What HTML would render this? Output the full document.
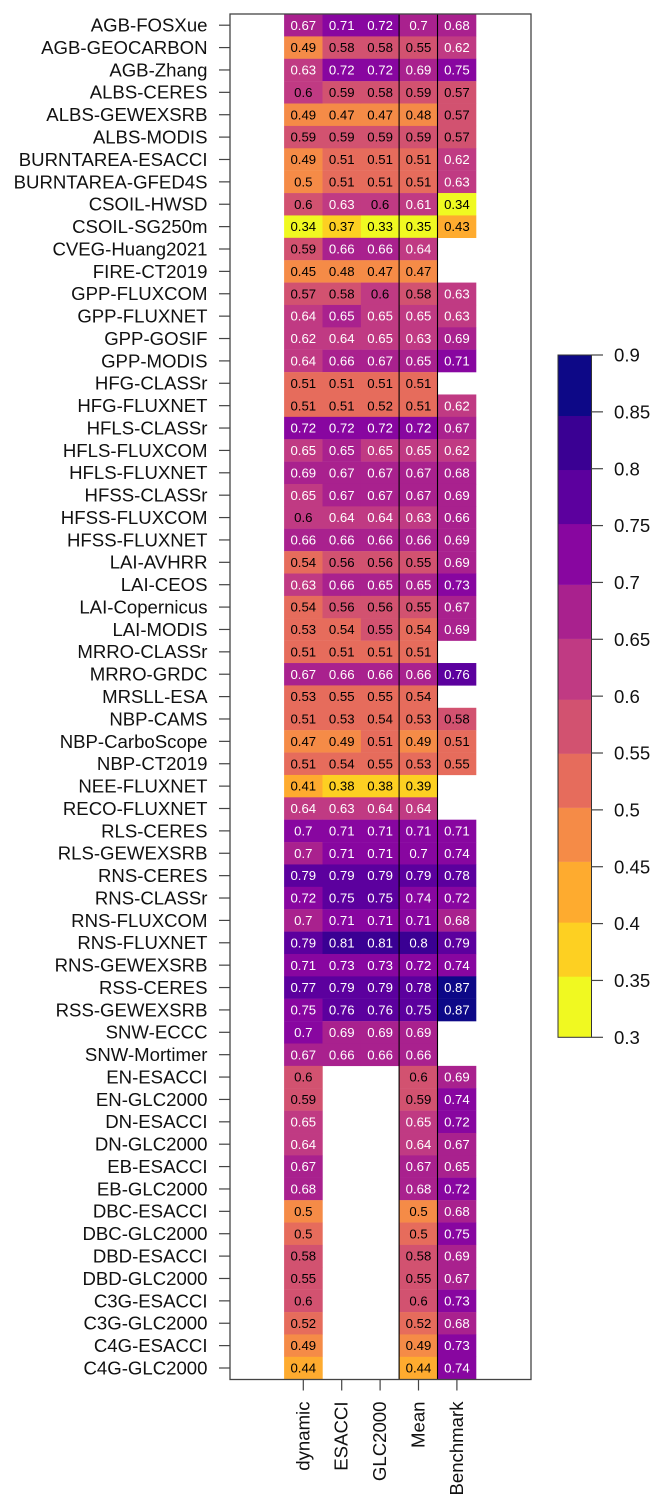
<!DOCTYPE html>
<html lang="en">
<head>
<meta charset="utf-8">
<title>Model score heatmap</title>
<style>
html,body{margin:0;padding:0;background:#fff;}
#chart{display:block;width:665px;height:1509px;filter:blur(0.35px);}
text{font-family:"Liberation Sans",sans-serif;}
</style>
</head>
<body>
<svg id="chart" xmlns="http://www.w3.org/2000/svg" width="665" height="1509" viewBox="0 0 665 1509"></svg>
<script>
const rowNames = ["AGB-FOSXue","AGB-GEOCARBON","AGB-Zhang","ALBS-CERES","ALBS-GEWEXSRB","ALBS-MODIS","BURNTAREA-ESACCI","BURNTAREA-GFED4S","CSOIL-HWSD","CSOIL-SG250m","CVEG-Huang2021","FIRE-CT2019","GPP-FLUXCOM","GPP-FLUXNET","GPP-GOSIF","GPP-MODIS","HFG-CLASSr","HFG-FLUXNET","HFLS-CLASSr","HFLS-FLUXCOM","HFLS-FLUXNET","HFSS-CLASSr","HFSS-FLUXCOM","HFSS-FLUXNET","LAI-AVHRR","LAI-CEOS","LAI-Copernicus","LAI-MODIS","MRRO-CLASSr","MRRO-GRDC","MRSLL-ESA","NBP-CAMS","NBP-CarboScope","NBP-CT2019","NEE-FLUXNET","RECO-FLUXNET","RLS-CERES","RLS-GEWEXSRB","RNS-CERES","RNS-CLASSr","RNS-FLUXCOM","RNS-FLUXNET","RNS-GEWEXSRB","RSS-CERES","RSS-GEWEXSRB","SNW-ECCC","SNW-Mortimer","EN-ESACCI","EN-GLC2000","DN-ESACCI","DN-GLC2000","EB-ESACCI","EB-GLC2000","DBC-ESACCI","DBC-GLC2000","DBD-ESACCI","DBD-GLC2000","C3G-ESACCI","C3G-GLC2000","C4G-ESACCI","C4G-GLC2000"];
const columnNames = ["dynamic","ESACCI","GLC2000","Mean","Benchmark"];
const dynamicValues = [.67,.49,.63,.6,.49,.59,.49,.498,.598,.34,.59,.45,.57,.64,.62,.64,.51,.51,.72,.648,.69,.648,.6,.66,.54,.63,.54,.53,.51,.67,.53,.51,.47,.51,.41,.64,.7,.698,.79,.72,.698,.79,.71,.77,.748,.7,.67,.598,.59,.648,.64,.67,.68,.498,.5,.58,.55,.598,.52,.49,.44];
const esacciValues = [.71,.58,.72,.59,.47,.59,.51,.51,.63,.37,.66,.48,.58,.65,.64,.66,.51,.51,.72,.652,.67,.67,.64,.66,.56,.66,.56,.54,.51,.66,.548,.53,.49,.54,.38,.63,.71,.71,.79,.75,.71,.81,.73,.79,.76,.69,.66,null,null,null,null,null,null,null,null,null,null,null,null,null,null];
const glc2000Values = [.72,.58,.72,.58,.47,.59,.51,.51,.6,.33,.66,.47,.6,.648,.648,.67,.51,.52,.72,.648,.67,.67,.64,.66,.56,.65,.56,.55,.51,.66,.548,.54,.51,.548,.38,.64,.71,.71,.79,.75,.71,.81,.73,.79,.76,.69,.66,null,null,null,null,null,null,null,null,null,null,null,null,null,null];
const meanValues = [.698,.55,.69,.59,.48,.59,.51,.51,.61,.349,.64,.47,.58,.648,.63,.65,.51,.51,.72,.648,.67,.67,.63,.66,.55,.65,.55,.54,.51,.66,.54,.53,.49,.53,.39,.64,.71,.7,.79,.74,.71,.8,.72,.78,.752,.69,.66,.598,.59,.648,.64,.67,.68,.498,.5,.58,.55,.598,.52,.49,.44];
const benchmarkValues = [.68,.62,.748,.57,.57,.57,.62,.63,.34,.43,null,null,.63,.63,.69,.71,null,.62,.67,.62,.68,.69,.66,.69,.69,.73,.67,.69,null,.76,null,.58,.51,.548,null,null,.71,.74,.78,.72,.68,.79,.74,.87,.87,null,null,.69,.74,.72,.67,.65,.72,.68,.748,.69,.67,.73,.68,.73,.74];
const seriesValues = [dynamicValues, esacciValues, glc2000Values, meanValues, benchmarkValues];
const palette = ["#f0f921","#fdd022","#feab2f","#f58b47","#e66c5c","#d25270","#c03a83","#a9218e","#8806a0","#5c009e","#3a0093","#0d0887"];
const colorbarTicks = [0.3,0.35,0.4,0.45,0.5,0.55,0.6,0.65,0.7,0.75,0.8,0.85,0.9];
const bandLevels = [9,8,9,8,8,8,9,8,9,8,8,9];

const svg = document.getElementById('chart');
const NS = 'http://www.w3.org/2000/svg';
function make(tag, attrs, parent, txt) {
  const el = document.createElementNS(NS, tag);
  for (const k in attrs) el.setAttribute(k, attrs[k]);
  if (txt !== undefined) el.textContent = txt;
  (parent || svg).appendChild(el);
  return el;
}
const box = {l: 230, r: 531, t: 14, b: 1379.5};
const colStep = 38.4, rowStep = 22.38;
function xScale(c) { return 303.3 + c * colStep; }
function yScale(r) { return 25.2 + r * rowStep; }
const bar = {l: 558, r: 591.5, t: 355, b: 1037.3, vMin: 0.3, vMax: 0.9};
function barY(v) { return bar.b - (v - bar.vMin) / (bar.vMax - bar.vMin) * (bar.b - bar.t); }
function binColor(v) {
  const i = Math.floor((v - bar.vMin) / 0.05 + 1e-9);
  return palette[Math.max(0, Math.min(palette.length - 1, i))];
}
function label(v) { return String(Math.round(v * 100) / 100); }

const bg = make('rect', {x: 0, y: 0, width: 665, height: 1509, fill: '#fff'});



// heatmap cells
seriesValues.forEach(function (vals, c) {
  vals.forEach(function (v, r) {
    if (v === null) return;
    const cell = make('rect', {x: xScale(c) - colStep / 2, y: yScale(r) - rowStep / 2, width: colStep + 0.2, height: rowStep + 0.2, fill: binColor(v)});
    
    
  });
});
// cell values
seriesValues.forEach(function (vals, c) {
  vals.forEach(function (v, r) {
    if (v === null) return;
    const t = make('text', {x: xScale(c), y: yScale(r) + 4.6, 'text-anchor': 'middle', 'font-size': 13.2, fill: v > 0.605 ? '#ffffff' : '#000000'}, svg, label(v));
    
    
  });
});
// separators around the Mean column
[3, 4].forEach(function (c) {
  const x = xScale(c) - colStep / 2 - 0.2;
  const sep = make('line', {x1: x, x2: x, y1: box.t, y2: box.b, stroke: '#000', 'stroke-width': 1.1});
  
  
});
// plot frame
const frame = make('rect', {x: box.l, y: box.t, width: box.r - box.l, height: box.b - box.t, fill: 'none', stroke: '#444', 'stroke-width': 1.3});



// y axis
rowNames.forEach(function (name, r) {
  const y = yScale(r);
  const tick = make('line', {x1: box.l - 11, x2: box.l, y1: y, y2: y, stroke: '#444', 'stroke-width': 1.2});
  
  
  const t = make('text', {x: 207.5, y: y + 6.4, 'text-anchor': 'end', 'font-size': 18.6, fill: '#111'}, svg, name);
  
  
});
// x axis
columnNames.forEach(function (name, c) {
  const x = xScale(c);
  const tick = make('line', {x1: x, x2: x, y1: box.b, y2: box.b + 11, stroke: '#444', 'stroke-width': 1.2});
  
  
  const t = make('text', {x: 0, y: 0, transform: 'translate(' + (x + 6) + ',1401.5) rotate(-90)', 'text-anchor': 'end', 'font-size': 18.6, fill: '#111'}, svg, name);
  
  
});

// colour bar
const levelCount = bandLevels.reduce(function (a, b) { return a + b; }, 0);
let used = 0;
bandLevels.forEach(function (n, i) {
  const h = (bar.b - bar.t) / levelCount;
  const yBottom = bar.b - used * h;
  const band = make('rect', {x: bar.l, y: yBottom - n * h, width: bar.r - bar.l, height: n * h + 0.2, fill: palette[i]});
  
  
  used += n;
});
const barFrame = make('rect', {x: bar.l, y: bar.t, width: bar.r - bar.l, height: bar.b - bar.t, fill: 'none', stroke: '#333', 'stroke-width': 1});


colorbarTicks.forEach(function (v) {
  const y = barY(v);
  const tick = make('line', {x1: bar.r, x2: 603, y1: y, y2: y, stroke: '#444', 'stroke-width': 1.2});
  
  
  const t = make('text', {x: 614, y: y + 6.6, 'font-size': 18.6, fill: '#111'}, svg, String(v));
  
  
});
</script>
</body>
</html>
